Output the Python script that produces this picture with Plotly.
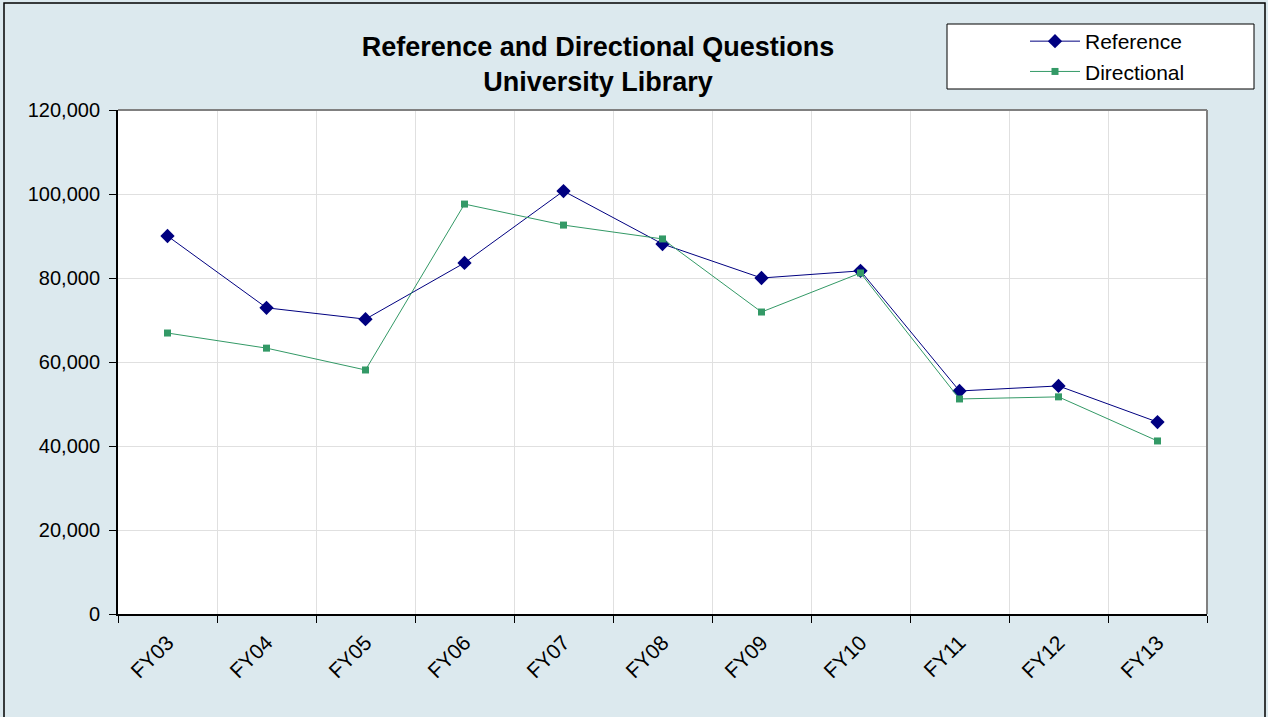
import plotly.graph_objects as go

categories = ["FY03", "FY04", "FY05", "FY06", "FY07", "FY08", "FY09", "FY10", "FY11", "FY12", "FY13"]
reference = [90000, 72900, 70200, 83600, 100700, 88100, 80000, 81700, 53100, 54300, 45700]
directional = [66900, 63300, 58100, 97600, 92600, 89300, 71900, 81200, 51200, 51700, 41200]
y_ticks = [0, 20000, 40000, 60000, 80000, 100000, 120000]

W, H = 1268, 717
L, R, T, B = 118, 1207, 110, 614  # plot area in screen pixels
FONT = "Liberation Sans, Arial, sans-serif"
BG = "#dce9ee"

def px_x(p):
    return (p - L) / (R - L)

def px_y(p):
    return (B - p) / (B - T)

fig = go.Figure()
fig.add_trace(go.Scatter(
    x=categories, y=reference, name="Reference", mode="lines+markers",
    line=dict(color="#000080", width=1),
    marker=dict(symbol="diamond", size=11, color="#000080"),
))
fig.add_trace(go.Scatter(
    x=categories, y=directional, name="Directional", mode="lines+markers",
    line=dict(color="#339966", width=1),
    marker=dict(symbol="square", size=7, color="#339966"),
))

shapes = [
    dict(type="rect", xref="paper", yref="paper",
         x0=px_x(4), x1=px_x(1265), y0=px_y(720), y1=px_y(3),
         line=dict(color="#000000", width=1.5), fillcolor="rgba(0,0,0,0)", layer="below"),
    dict(type="line", xref="paper", yref="paper", x0=0, x1=1, y0=1, y1=1,
         line=dict(color="#808080", width=2)),
    dict(type="line", xref="paper", yref="paper", x0=1, x1=1, y0=0, y1=1,
         line=dict(color="#808080", width=2)),
    dict(type="rect", xref="paper", yref="paper",
         x0=px_x(947), x1=px_x(1254), y0=px_y(89), y1=px_y(24),
         line=dict(color="#000000", width=1), fillcolor="#ffffff", layer="below"),
]

fig.update_layout(
    width=W, height=H,
    margin=dict(l=L, r=W - R, t=T, b=H - B),
    paper_bgcolor=BG, plot_bgcolor="#ffffff",
    font=dict(family=FONT, color="#000000"),
    title=dict(
        text="<b>Reference and Directional Questions<br>University Library</b>",
        x=px_x(598), xanchor="center", xref="paper",
        y=1 - 55.5 / H, yanchor="middle",
        font=dict(size=27, family=FONT, color="#000000"),
    ),
    showlegend=True,
    legend=dict(
        x=px_x(1025), y=px_y(21), xanchor="left", yanchor="top",
        xref="paper", yref="paper",
        bgcolor="rgba(0,0,0,0)", borderwidth=0,
        font=dict(size=21, family=FONT, color="#000000"),
        tracegroupgap=0, itemwidth=50,
    ),
    shapes=shapes,
    xaxis=dict(
        type="category", categoryorder="array", categoryarray=categories,
        range=[-0.5, 10.5], tickson="boundaries",
        showgrid=True, gridcolor="#e0e0e0", gridwidth=1,
        showline=True, linecolor="#000000", linewidth=2,
        ticks="outside", ticklen=7, tickcolor="#000000", tickwidth=1,
        tickangle=-45, ticklabelstandoff=6,
        tickfont=dict(size=21, family=FONT, color="#000000"),
        zeroline=False,
    ),
    yaxis=dict(
        range=[0, 120000], tickvals=y_ticks, tickformat=",d",
        showgrid=True, gridcolor="#e0e0e0", gridwidth=1,
        showline=True, linecolor="#000000", linewidth=2,
        ticks="outside", ticklen=7, tickcolor="#000000", tickwidth=1,
        ticklabelstandoff=5,
        tickfont=dict(size=20, family=FONT, color="#000000"),
        zeroline=False,
    ),
)

fig.write_html(
    "out.html",
    config={"displayModeBar": False},
    post_script="document.body.style.margin='0';document.body.style.overflow='hidden';",
)
